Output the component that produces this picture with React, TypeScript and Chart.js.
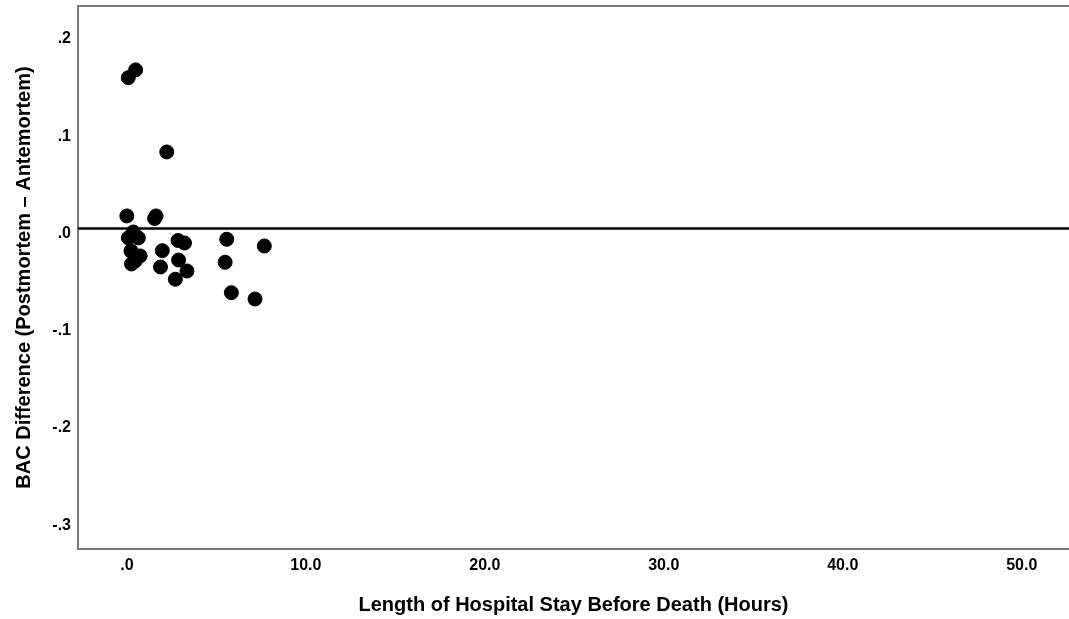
import React, { useEffect, useRef } from "react";
import { Chart, registerables } from "chart.js";

Chart.register(...registerables);

// Length of hospital stay before death (hours)
const hours = [
  0.08, 0.49, 2.23, 0.0, 1.55, 1.63, 0.36, 0.08, 0.64, 0.23, 0.74, 0.26, 0.46,
  1.98, 2.86, 3.22, 2.89, 1.88, 3.36, 2.71, 5.58, 5.49, 7.68, 5.84, 7.16,
];
// BAC difference (postmortem - antemortem)
const bacDiff = [
  0.155, 0.163, 0.0786, 0.0128, 0.0102, 0.0128, -0.0037, -0.0098, -0.0098,
  -0.0232, -0.0283, -0.0366, -0.0335, -0.0229, -0.0124, -0.015, -0.0325,
  -0.0397, -0.0438, -0.0523, -0.0112, -0.0348, -0.0181, -0.0661, -0.0726,
];

const xTicks = [0, 10, 20, 30, 40, 50];
const xTickLabels = [".0", "10.0", "20.0", "30.0", "40.0", "50.0"];
const yTicks = [0.2, 0.1, 0, -0.1, -0.2, -0.3];
const yTickLabels = [".2", ".1", ".0", "-.1", "-.2", "-.3"];

const xMin = -2.73;
const xMax = 52.64;
const yMin = -0.3297;
const yMax = 0.2287;
const referenceLine = 0;

const xTitle = "Length of Hospital Stay Before Death (Hours)";
const yTitle = "BAC Difference (Postmortem \u2013 Antemortem)";

const FONT = "'Liberation Sans', Arial, Helvetica, sans-serif";

const framePlugin = {
  id: "frameAndRef",
  beforeDatasetsDraw(chart: any) {
    const { ctx, chartArea, scales } = chart;
    ctx.save();
    ctx.strokeStyle = "#7a7a7a";
    ctx.lineWidth = 2;
    ctx.beginPath();
    ctx.moveTo(chartArea.left - 1, chartArea.top);
    ctx.lineTo(chartArea.right, chartArea.top);
    ctx.stroke();
    const y = scales.y.getPixelForValue(referenceLine);
    ctx.strokeStyle = "#000";
    ctx.lineWidth = 2.5;
    ctx.beginPath();
    ctx.moveTo(chartArea.left, y);
    ctx.lineTo(chartArea.right, y);
    ctx.stroke();
    ctx.restore();
  },
};

function findLabel(values: number[], labels: string[], v: number) {
  const i = values.findIndex((t) => Math.abs(t - v) < 1e-9);
  return i >= 0 ? labels[i] : "";
}

function zeroPadding(s: any) {
  s.paddingTop = 0;
  s.paddingBottom = 0;
  s.paddingLeft = 0;
  s.paddingRight = 0;
}

export default function App() {
  const ref = useRef<HTMLCanvasElement | null>(null);

  useEffect(() => {
    if (!ref.current) return;
    const data = hours.map((h, i) => ({ x: h, y: bacDiff[i] }));
    const chart = new Chart(ref.current, {
      type: "scatter",
      data: {
        datasets: [
          {
            data,
            pointRadius: 7,
            pointHoverRadius: 7,
            pointBorderWidth: 1,
            backgroundColor: "#000",
            borderColor: "#000",
          },
        ],
      },
      plugins: [framePlugin],
      options: {
        animation: false,
        responsive: false,
        maintainAspectRatio: false,
        layout: {
          autoPadding: false,
          padding: { top: 6, right: 0, left: 0, bottom: 0 },
        },
        plugins: { legend: { display: false }, tooltip: { enabled: false } },
        scales: {
          x: {
            type: "linear",
            min: xMin,
            max: xMax,
            afterBuildTicks: (s: any) => {
              s.ticks = xTicks.map((v) => ({ value: v }));
            },
            afterFit: (s: any) => {
              s.height = 70;
              zeroPadding(s);
            },
            grid: { display: false, drawTicks: false },
            border: { display: true, color: "#7a7a7a", width: 2 },
            ticks: {
              autoSkip: false,
              maxRotation: 0,
              padding: 7,
              color: "#000",
              font: { family: FONT, size: 16, weight: "bold", lineHeight: 1.2 },
              callback: (v: any) => findLabel(xTicks, xTickLabels, Number(v)),
            },
            title: {
              display: true,
              text: xTitle,
              color: "#000",
              font: { family: FONT, size: 20, weight: "bold", lineHeight: 1.2 },
              padding: { top: 0, bottom: 2 },
            },
          },
          y: {
            type: "linear",
            min: yMin,
            max: yMax,
            afterBuildTicks: (s: any) => {
              s.ticks = yTicks.map((v) => ({ value: v }));
            },
            afterFit: (s: any) => {
              s.width = 78;
              zeroPadding(s);
            },
            grid: { display: false, drawTicks: false },
            border: { display: true, color: "#7a7a7a", width: 2 },
            ticks: {
              autoSkip: false,
              padding: 7,
              labelOffset: 5,
              color: "#000",
              font: { family: FONT, size: 16, weight: "bold", lineHeight: 1.2 },
              callback: (v: any) => findLabel(yTicks, yTickLabels, Number(v)),
            },
            title: {
              display: true,
              text: yTitle,
              color: "#000",
              font: { family: FONT, size: 20, weight: "bold", lineHeight: 1.2 },
              padding: { top: 12, bottom: 0 },
            },
          },
        },
      },
    } as any);
    return () => chart.destroy();
  }, []);

  return (
    <div
      style={{
        position: "fixed",
        left: 0,
        top: 0,
        width: 1069,
        height: 619,
        background: "#fff",
      }}
    >
      <canvas ref={ref} width={1069} height={619} style={{ display: "block" }} />
    </div>
  );
}
